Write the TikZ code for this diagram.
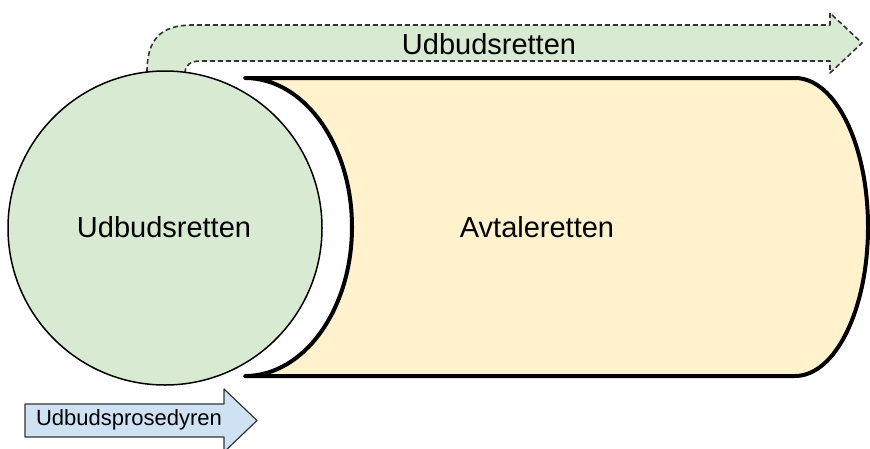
\documentclass[tikz,border=0pt]{standalone}
\usepackage{fontspec}
\setmainfont{Liberation Sans}
\usepackage{tikz}
\definecolor{gronn}{HTML}{D9EAD3}
\definecolor{gul}{HTML}{FFF2CC}
\definecolor{blaa}{HTML}{CFE2F3}
\definecolor{kant}{HTML}{333333}
\tikzset{
  tekst/.style={inner sep=0pt,text=black,font=\fontsize{29}{32}\selectfont},
  litentekst/.style={inner sep=0pt,text=black,font=\fontsize{22}{25}\selectfont}
}
\begin{document}
\begin{tikzpicture}[x=1pt,y=-1pt,line join=round]
        \useasboundingbox (0,0) rectangle (870,448);
        \filldraw[fill=gronn,draw=kant,line width=1.6pt,dash pattern=on 5pt off 3pt]
          (147,80) -- (147,72) .. controls (147,40) and (160,25) .. (193,25) -- (830,25) -- (830,13)
          -- (862,43) -- (830,73) -- (830,61) -- (200,61) .. controls (190,61) and (185,66) .. (185,72)
          -- (185,80) -- cycle;
        \filldraw[fill=gul,draw=black,line width=4pt]
          (245,78) -- (795,78) arc[start angle=-90,end angle=90,x radius=73,y radius=149]
          -- (245,376) arc[start angle=90,end angle=-90,x radius=107,y radius=149] -- cycle;
        \filldraw[fill=gronn,draw=black,line width=1.5pt] (165,228) circle[radius=157];
        \filldraw[fill=blaa,draw=kant,line width=1.2pt]
          (25,404) -- (224,404) -- (224,389) -- (257,420.5) -- (224,452) -- (224,437) -- (25,437) -- cycle;
        \node[tekst] (sirkel) at (164,227) {Udbudsretten};
        \node[tekst] (avtale) at (537,227) {Avtaleretten};
        \node[tekst] (topp) at (489,44) {Udbudsretten};
        \node[litentekst] (prosedyre) at (129,420) {Udbudsprosedyren};
      \end{tikzpicture}
\end{document}
